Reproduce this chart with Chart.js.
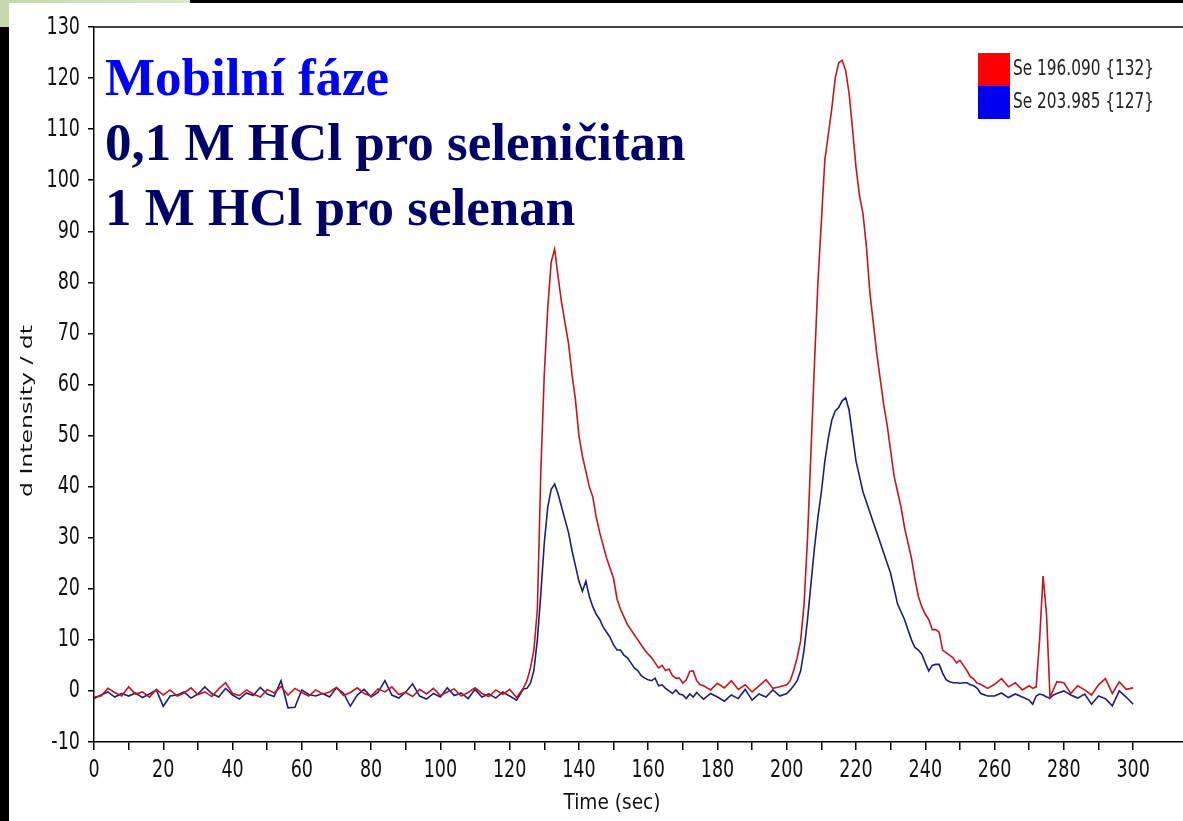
<!DOCTYPE html>
<html>
<head>
<meta charset="utf-8">
<script src="https://cdn.jsdelivr.net/npm/chart.js@4"></script>
<style>
body{margin:0;background:#fff;}
#wrap{width:1183px;height:821px;}
</style>
</head>
<body>
<div id="wrap"><canvas id="myChart" width="1183" height="821"></canvas></div>
<script>
// time (sec) - 2 s steps on the baseline, 1 s steps through the peaks
let times = [
  0,2,4,6,8,10,12,14,16,18, 20,22,24,26,28,30,32,34,36,38,
  40,42,44,46,48,50,52,54,56,58, 60,62,64,66,68,70,72,74,76,78,
  80,82,84,86,88,90,92,94,96,98, 100,102,104,106,108,110,112,114,116,118,
  120,122,124,
  125,126,127,128,129,130,131,132,133,134, 135,136,137,138,139,140,141,142,143,144,
  145,146,147,148,149,150,151,152,153,154, 155,156,157,158,159,160,161,162,163,164,
  165,166,167,168,169,170,171,172,173,174, 175,
  176,178,180,182,184,186,188,190,192,194,196,198,200,
  201,202,203,204,205,206,207,208,209,210, 211,212,213,214,215,216,217,218,219,220,
  221,222,223,224,225,226,227,228,229,230, 231,232,233,234,235,236,237,238,239,240,
  241,242,243,244,245,246,247,248,249,250, 251,252,253,254,255,256,
  258,260,262,264,266,268,270,
  271,272,273,274,275,276,277,
  278,280,282,284,286,288,290,292,294,296,298,300
];

// Se 196.090 {132}
let se196 = [
  -1.2,-1.0,0.5,-0.3,-1.0,0.8,-0.6,-0.2,-1.2,0.3, -0.8,0.2,-1.0,-0.4,0.6,-0.7,-0.2,-1.1,0.4,1.6,
  -0.5,-0.9,0.2,-0.6,-1.2,0.3,-0.4,0.9,-0.8,0.5, -0.3,-1.0,0.2,-0.6,-0.2,0.7,-0.9,-0.3,0.6,-0.5,
  -1.0,0.4,-0.2,0.8,-0.7,-0.3,-1.1,0.3,-0.6,0.5, -0.9,-0.2,0.4,-1.0,-0.3,0.6,-0.5,-1.1,0.2,-0.7,
  0.3,-1.3,0.6,
  2.0,4.5,8,16,43,62,75,84,86.5,81, 76,72,68,62,57,50,46,43,40,38,
  34,31,28.5,26,24,22,18,16,14.5,13, 12,11,10,9,8,7.2,6.5,5.5,4.5,5,
  4,4.3,3,2.5,2.5,1.5,2.2,3.8,3.9,2, 1.2,
  1.0,0.2,1.5,0.6,2.0,0.3,1.2,-0.2,1.0,2.2,0.5,0.8,1.2,
  2.0,4.0,6.5,9.8,17,30,47,64,80,92, 104,109,114,120,123,123.5,121.5,117,110,102.5,
  97,93.5,87,78,72,66,61,56,52,47, 42,39,36,32,29,26,22,18.5,16.5,15,
  14,12,12,11.5,8,7.5,7,6.5,5.5,6, 5,4,2.8,2.3,1.5,1.3,
  0.5,1.3,2.4,0.8,1.6,0.2,1.0,
  0.5,0.8,10,22.5,15,-1.2,0.3,
  1.8,1.6,-0.5,1.0,0.2,-0.8,1.2,2.4,-0.5,1.8,0.3,0.6
];

// Se 203.985 {127}
let se204 = [
  -1.5,-0.8,-0.2,-1.2,-0.5,-1.0,-0.4,-1.3,-0.6,0.2, -3.0,-1.0,-0.8,-0.2,-1.4,-0.6,0.8,-0.5,-1.2,0.5,
  -0.8,-1.6,-0.4,-0.9,0.7,-0.6,-1.1,2.0,-3.3,-3.2, 0.2,-0.7,-1.0,-0.5,-1.2,0.6,-0.4,-3.0,-0.8,0.3,
  -1.2,-0.3,2.0,-0.8,-1.4,-0.2,1.4,-1.0,-1.6,-0.5, -1.2,0.6,-0.9,-0.4,-1.5,0.3,-1.2,-0.6,-1.4,-0.2,
  -1.0,-1.8,0.4,
  0.5,1.5,4,10,19,29,36,39.5,40.5,38.5, 36,33.5,31,27.5,24.5,21.5,19.5,21.5,18.5,16.5,
  15,14,12.5,11.5,10.5,9,8,8,7,6.5, 5.5,4.5,4,3,2.5,2.2,2,2.5,1,1.2,
  0.5,0,-0.5,0.2,-0.6,-0.8,-1.5,-0.6,-1.2,-0.3, -1.0,
  -1.6,-0.5,-1.2,-2.0,-0.8,-1.5,0.3,-1.8,-0.6,-1.2,0.2,-1.0,-0.5,
  0.2,1.0,2.0,3.9,8,14,21,28,34,39, 45,49.5,53,54.8,55.5,56.8,57.4,55,50,45,
  42,39,37,35,33,31,29,27,25,23, 20,17,15.5,14,12,10,8.5,8,7.2,5.5,
  3.9,5,5.2,5.2,3.5,2.2,1.8,1.6,1.6,1.5, 1.6,1.6,1.2,1,0.5,-0.5,
  -1.0,-1.0,-0.4,-1.3,-0.6,-1.2,-1.8,
  -2.6,-1.0,-0.6,-0.8,-1.2,-1.4,-0.8,
  -0.5,0,-0.8,-1.4,-0.6,-2.6,-1.0,-1.5,-2.9,0,-1.2,-2.6
];

let seriesLabels = ['Se 196.090 {132}', 'Se 203.985 {127}'];
let titleLines = ['Mobilní fáze', '0,1 M HCl pro seleničitan', '1 M HCl pro selenan'];

let narrow = "'Liberation Sans Narrow', 'DejaVu Sans Condensed', sans-serif";

function pts(arr) {
  return times.map((t, i) => ({x: t, y: arr[i]}));
}

// text squeezed to a given width, like the stretched original screenshot
function squeezeText(c, txt, x, y, font, width, align) {
  c.save();
  c.font = font;
  let w = c.measureText(txt).width;
  c.translate(x, y);
  c.scale(width / w, 1);
  c.textAlign = align;
  c.fillText(txt, 0, 0);
  c.restore();
}

// text squeezed by a fixed factor
function narrowText(c, txt, x, y, font, f, align) {
  c.save();
  c.font = font;
  c.translate(x, y);
  c.scale(f, 1);
  c.textAlign = align;
  c.fillText(txt, 0, 0);
  c.restore();
}

let deco = {
  id: 'deco',
  beforeDraw(chart) {
    let c = chart.ctx;
    c.save();
    c.fillStyle = '#fff';
    c.fillRect(0, 0, chart.width, chart.height);
    let g = c.createLinearGradient(0, 0, 190, 0);
    g.addColorStop(0, '#c6d9ab');
    g.addColorStop(1, '#dbe7c9');
    c.fillStyle = g;
    c.fillRect(0, 0, 190, 3);
    c.fillRect(0, 0, 9, 27);
    c.fillStyle = '#000';
    c.fillRect(190, 0, chart.width - 190, 3);
    c.fillRect(0, 27, 9, chart.height - 27);
    c.restore();
  },
  afterDatasetsDraw(chart) {
    let c = chart.ctx;
    let a = chart.chartArea;
    c.save();
    // top frame line
    c.strokeStyle = '#444';
    c.lineWidth = 2;
    c.beginPath();
    c.moveTo(a.left, a.top);
    c.lineTo(a.right, a.top);
    c.stroke();

    // overlay text
    c.font = "bold 53px 'Liberation Serif', 'Times New Roman', serif";
    c.textAlign = 'left';
    c.textBaseline = 'alphabetic';
    c.fillStyle = '#0000ff';
    c.fillText(titleLines[0], 105, 95);
    c.fillStyle = '#00006b';
    c.fillText(titleLines[1], 105, 160);
    c.fillText(titleLines[2], 105, 225);

    // legend
    chart.data.datasets.forEach((ds, i) => {
      let y = 53 + i * 33;
      c.fillStyle = ds.backgroundColor;
      c.fillRect(978, y, 32, 33);
      c.fillStyle = '#222';
      c.textBaseline = 'middle';
      squeezeText(c, ds.label, 1013, y + 17, '21px ' + narrow, 141, 'left');
    });

    // tick labels, drawn narrow from the library's own ticks
    c.fillStyle = '#111';
    c.textBaseline = 'middle';
    let xs = chart.scales.x, ys = chart.scales.y;
    xs.ticks.forEach(t => {
      if (t.value % 20 === 0 && t.value <= 300) {
        narrowText(c, String(t.value), xs.getPixelForValue(t.value), 770, '25px ' + narrow, 0.78, 'center');
      }
    });
    ys.ticks.forEach(t => {
      narrowText(c, String(t.value), 80, ys.getPixelForValue(t.value), '25px ' + narrow, 0.78, 'right');
    });

    // axis titles
    squeezeText(c, 'Time (sec)', 612, 803, '22px ' + narrow, 97, 'center');
    c.save();
    c.translate(28, 411);
    c.rotate(-Math.PI / 2);
    squeezeText(c, 'd Intensity / dt', 0, 0, '15px ' + narrow, 172, 'center');
    c.restore();
    c.restore();
  }
};

let ctx = document.getElementById('myChart').getContext('2d');

let chromChart = new Chart(ctx, {
  type: 'line',
  data: {
    datasets: [{
      label: seriesLabels[0],
      data: pts(se196),
      borderColor: '#c4161e',
      backgroundColor: '#ff0000',
      borderWidth: 1.6,
      pointRadius: 0,
      tension: 0
    }, {
      label: seriesLabels[1],
      data: pts(se204),
      borderColor: '#1d1d7c',
      backgroundColor: '#0000f0',
      borderWidth: 1.6,
      pointRadius: 0,
      tension: 0
    }]
  },
  options: {
    responsive: false,
    devicePixelRatio: 1,
    animation: false,
    layout: {padding: {top: 27, left: 0, right: 0, bottom: 0}},
    plugins: {legend: {display: false}, tooltip: {enabled: false}},
    scales: {
      x: {
        type: 'linear',
        min: 0,
        max: 314.4,
        afterFit(s) { s.height = 79; },
        afterBuildTicks(s) { s.ticks = s.ticks.filter(t => t.value % 10 === 0); },
        border: {color: '#000', width: 1.5},
        grid: {drawOnChartArea: false, color: '#000', lineWidth: 1.5, tickLength: 8},
        ticks: {
          stepSize: 10,
          autoSkip: false,
          maxRotation: 0,
          color: 'rgba(0,0,0,0)',
          font: {family: narrow, size: 24},
          callback: v => (v % 20 === 0 && v <= 300) ? v : ''
        }
      },
      y: {
        min: -10,
        max: 130,
        afterFit(s) { s.width = 94; },
        border: {color: '#000', width: 1.5},
        grid: {drawOnChartArea: false, color: '#000', lineWidth: 1.5, tickLength: 6},
        ticks: {
          stepSize: 10,
          color: 'rgba(0,0,0,0)',
          font: {family: narrow, size: 24}
        }
      }
    }
  },
  plugins: [deco]
});
</script>
</body>
</html>
